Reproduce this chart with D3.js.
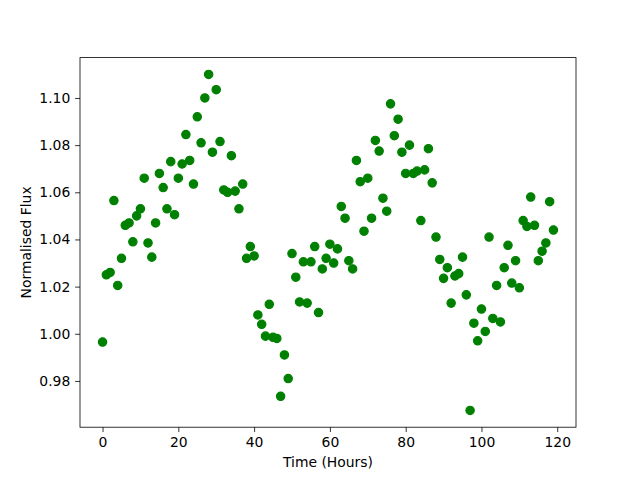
<!DOCTYPE html>
<html>
<head>
<meta charset="utf-8">
<script src="https://cdn.jsdelivr.net/npm/d3@7"></script>
<style>
  body { margin: 0; background: #fff; }
  text { font-family: "DejaVu Sans", sans-serif; }
</style>
</head>
<body>
<div id="chart"></div>
<script>
// flux readings, one per hour starting at 0
const flux = [
  0.9965, 1.025, 1.026, 1.0565, 1.0205, 1.032, 1.046, 1.047, 1.039, 1.050,
  1.053, 1.066, 1.0385, 1.0325, 1.047, 1.068, 1.062, 1.053, 1.073, 1.0505,
  1.066, 1.072, 1.0845, 1.0735, 1.0635, 1.092, 1.081, 1.100, 1.110, 1.077,
  1.1035, 1.0815, 1.061, 1.060, 1.0755, 1.0605, 1.053, 1.0635, 1.032, 1.037,
  1.033, 1.008, 1.004, 0.999, 1.0125, 0.9985, 0.998, 0.9735, 0.991, 0.981,
  1.034, 1.024, 1.0135, 1.0305, 1.013, 1.0305, 1.037, 1.009, 1.0275, 1.032,
  1.038, 1.030, 1.036, 1.054, 1.049, 1.031, 1.0275, 1.0735, 1.0645, 1.0435,
  1.066, 1.049, 1.082, 1.0775, 1.0575, 1.052, 1.0975, 1.084, 1.091, 1.077,
  1.068, 1.080, 1.068, 1.069, 1.048, 1.0695, 1.0785, 1.064, 1.041, 1.0315,
  1.0235, 1.028, 1.013, 1.0245, 1.0255, 1.0325, 1.0165, 0.9675, 1.0045, 0.997,
  1.0105, 1.001, 1.041, 1.0065, 1.0205, 1.005, 1.028, 1.0375, 1.0215, 1.031,
  1.0195, 1.048, 1.0455, 1.058, 1.046, 1.031, 1.035, 1.0385, 1.056, 1.044
];
const hours = flux.map((f, i) => i);
const xTicks = [0, 20, 40, 60, 80, 100, 120];
const yTicks = [0.98, 1.00, 1.02, 1.04, 1.06, 1.08, 1.10];

const width = 640, height = 480;
const margin = { left: 80, right: 64, top: 57.6, bottom: 52.8 };
const innerW = width - margin.left - margin.right;
const innerH = height - margin.top - margin.bottom;

const svg = d3.select("#chart")
  .append("svg")
  .attr("width", width)
  .attr("height", height);

const g = svg.append("g")
  .attr("transform", "translate(" + margin.left + "," + margin.top + ")");

// matplotlib style 5% padding around data
function padded(ext) {
  const m = (ext[1] - ext[0]) * 0.05;
  return [ext[0] - m, ext[1] + m];
}

const x = d3.scaleLinear()
  .domain(padded(d3.extent(hours)))
  .range([0, innerW]);

const y = d3.scaleLinear()
  .domain(padded(d3.extent(flux)))
  .range([innerH, 0]);

const fs = 13.9;

// X axis
const xAxis = g.append("g")
  .attr("transform", "translate(0," + innerH + ")")
  .call(d3.axisBottom(x).tickValues(xTicks).tickFormat(d3.format("d")).tickSize(4.86).tickPadding(4.86));
xAxis.select(".domain").remove();
xAxis.selectAll("text").style("font-size", fs + "px").attr("fill", "#000");
xAxis.selectAll("line").attr("stroke", "#000").attr("stroke-width", 0.8);

// Y axis
const yAxis = g.append("g")
  .call(d3.axisLeft(y).tickValues(yTicks).tickFormat(d3.format(".2f")).tickSize(4.86).tickPadding(4.86));
yAxis.select(".domain").remove();
yAxis.selectAll("text").style("font-size", fs + "px").attr("fill", "#000");
yAxis.selectAll("line").attr("stroke", "#000").attr("stroke-width", 0.8);

// frame
g.append("rect")
  .attr("x", 0)
  .attr("y", 0)
  .attr("width", innerW)
  .attr("height", innerH)
  .attr("fill", "none")
  .attr("stroke", "#000")
  .attr("stroke-width", 0.8);

// points
g.selectAll("circle")
  .data(flux)
  .enter()
  .append("circle")
  .attr("cx", (d, i) => x(hours[i]))
  .attr("cy", d => y(d))
  .attr("r", 4.17)
  .attr("fill", "#008000")
  .attr("stroke", "#008000")
  .attr("stroke-width", 1.2);

// labels
svg.append("text")
  .attr("x", margin.left + innerW / 2)
  .attr("y", 467)
  .attr("text-anchor", "middle")
  .style("font-size", fs + "px")
  .text("Time (Hours)");

svg.append("text")
  .attr("transform", "translate(31," + (margin.top + innerH / 2) + ") rotate(-90)")
  .attr("text-anchor", "middle")
  .style("font-size", fs + "px")
  .text("Normalised Flux");
</script>
</body>
</html>
